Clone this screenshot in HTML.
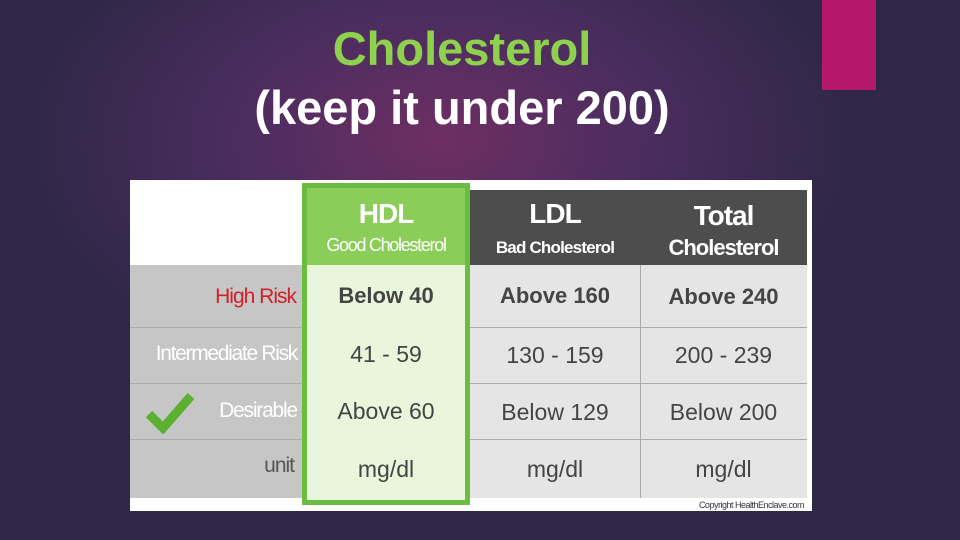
<!DOCTYPE html>
<html><head><meta charset="utf-8"><style>
body{margin:0;width:960px;height:540px;overflow:hidden;font-family:"Liberation Sans",sans-serif;}
#slide{position:relative;width:960px;height:540px;background:radial-gradient(ellipse 420px 260px at 440px 140px,#6e2e64 0%,#4a2d5e 50%,#2f2747 100%);}
.abs{position:absolute;}
.t{position:absolute;text-align:center;white-space:nowrap;}
</style></head><body>
<div id="slide">
<div class="abs" style="left:822px;top:0;width:54px;height:90px;background:#b5186a"></div>
<div class="t" style="left:212px;width:500px;top:25px;font-size:47px;line-height:47px;font-weight:bold;color:#8dd14c">Cholesterol</div>
<div class="t" style="left:162px;width:600px;top:84px;font-size:47px;line-height:47px;font-weight:bold;color:#fff">(keep it under 200)</div>

<div class="abs" style="left:130px;top:180px;width:682px;height:331px;background:#fff">
  <div class="abs" style="left:340px;top:10px;width:337px;height:75px;background:#4d4d4d"></div>
  <div class="abs" style="left:0;top:85px;width:172px;height:233px;background:#c6c6c6"></div>
  <div class="abs" style="left:340px;top:85px;width:337px;height:233px;background:#e5e5e5"></div>
  <div class="abs" style="left:510px;top:85px;width:1px;height:233px;background:#aaa"></div>
  <div class="abs" style="left:0;top:147px;width:677px;height:1px;background:#aaa"></div>
  <div class="abs" style="left:0;top:203px;width:677px;height:1px;background:#aaa"></div>
  <div class="abs" style="left:0;top:259px;width:677px;height:1px;background:#aaa"></div>
  <div class="abs" style="left:172px;top:3px;width:158px;height:312px;border:5px solid #6bbd42;background:#eaf6dc"></div>
  <div class="abs" style="left:177px;top:8px;width:158px;height:77px;background:#8bcd59"></div>

  <div class="t" style="left:177px;width:158px;top:18px;font-size:28px;font-weight:bold;color:#fff;letter-spacing:-1px">HDL</div>
  <div class="t" style="left:177px;width:158px;top:55px;font-size:18px;color:#fff;letter-spacing:-1.3px">Good Cholesterol</div>
  <div class="t" style="left:340px;width:170px;top:18px;font-size:28px;font-weight:bold;color:#fff;letter-spacing:-1px">LDL</div>
  <div class="t" style="left:340px;width:170px;top:58px;font-size:17px;font-weight:bold;color:#fff;letter-spacing:-0.8px">Bad Cholesterol</div>
  <div class="t" style="left:510px;width:167px;top:20px;font-size:28px;font-weight:bold;color:#fff;letter-spacing:-1px">Total</div>
  <div class="t" style="left:510px;width:167px;top:55px;font-size:22px;font-weight:bold;color:#fff;letter-spacing:-1px">Cholesterol</div>

  <div class="t" style="right:516px;top:105px;font-size:21px;color:#d0202a;letter-spacing:-1px">High Risk</div>
  <div class="t" style="right:515px;top:162px;font-size:21px;color:#fff;letter-spacing:-1.3px">Intermediate Risk</div>
  <div class="t" style="right:515px;top:219px;font-size:21px;color:#fff;letter-spacing:-1.2px">Desirable</div>
  <div class="t" style="right:518px;top:274px;font-size:21px;color:#555;letter-spacing:-1px">unit</div>
  <svg class="abs" style="left:16px;top:210px" width="48" height="44"><path d="M3 24 L17 38 L45 6" fill="none" stroke="#5cb030" stroke-width="9"/></svg>

  <div class="t" style="left:177px;width:158px;top:103px;font-size:22px;font-weight:bold;color:#444">Below 40</div>
  <div class="t" style="left:177px;width:158px;top:161px;font-size:23px;color:#444">41 - 59</div>
  <div class="t" style="left:177px;width:158px;top:218px;font-size:23px;color:#444">Above 60</div>
  <div class="t" style="left:177px;width:158px;top:276px;font-size:23px;color:#444">mg/dl</div>
  <div class="t" style="left:340px;width:170px;top:103px;font-size:22px;font-weight:bold;color:#444">Above 160</div>
  <div class="t" style="left:340px;width:170px;top:162px;font-size:23px;color:#444">130 - 159</div>
  <div class="t" style="left:340px;width:170px;top:219px;font-size:23px;color:#444">Below 129</div>
  <div class="t" style="left:340px;width:170px;top:276px;font-size:23px;color:#444">mg/dl</div>
  <div class="t" style="left:510px;width:167px;top:104px;font-size:22px;font-weight:bold;color:#444">Above 240</div>
  <div class="t" style="left:510px;width:167px;top:162px;font-size:23px;color:#444">200 - 239</div>
  <div class="t" style="left:510px;width:167px;top:219px;font-size:23px;color:#444">Below 200</div>
  <div class="t" style="left:510px;width:167px;top:276px;font-size:23px;color:#444">mg/dl</div>
  <div class="t" style="right:8px;top:320px;font-size:9px;color:#333;letter-spacing:-0.5px">Copyright HealthEnclave.com</div>
</div>
</div>
</body></html>
